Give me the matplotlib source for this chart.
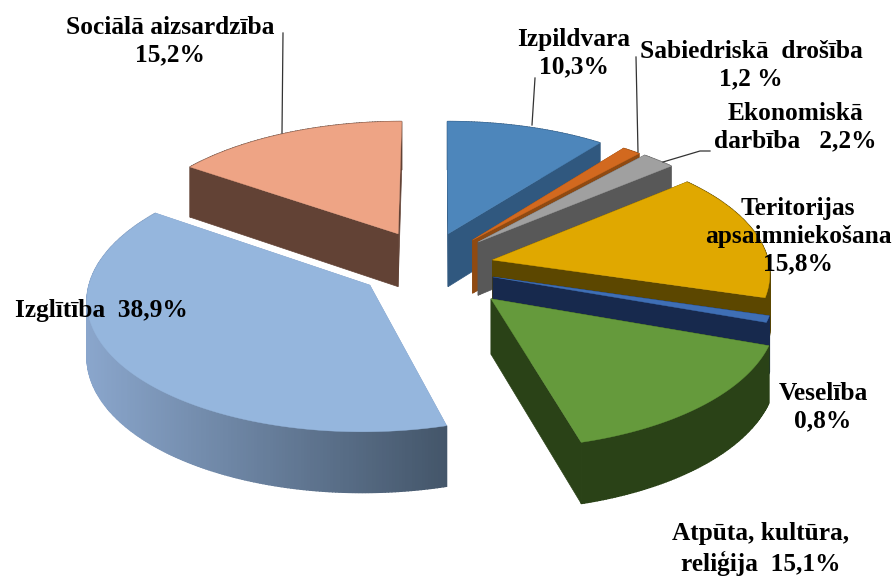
import numpy as np
import matplotlib.pyplot as plt
from matplotlib.colors import LinearSegmentedColormap

# budget shares, clockwise from 12 o'clock
names = ['Izpildvara', 'Sabiedriskā drošība', 'Ekonomiskā darbība', 'Teritorijas apsaimniekošana',
         'Veselība', 'Atpūta, kultūra, reliģija', 'Izglītība', 'Sociālā aizsardzība']
shares = [10.3, 1.2, 2.2, 15.8, 0.8, 15.1, 38.9, 15.2]

# how far each slice is pulled away from the pie centre (pie radius = 1)
shift_x = [0.03, 0.12, 0.14, 0.19, 0.19, 0.18, -0.25, -0.155]
shift_y = [0.225, 0.174, 0.158, 0.016, -0.116, -0.28, -0.178, 0.225]
top_colors = ['#4d86bb', '#d2691f', '#a0a0a0', '#e0a800', '#3f6fb5', '#659a3c', '#95b6dd', '#eea485']
wall_left = ['#30587f', '#8f4a12', '#585858', '#5c4700', '#17294d', '#2a4217', '#8aa6cc', '#624235']
wall_right = ['#30587f', '#8f4a12', '#585858', '#5c4700', '#17294d', '#2a4217', '#44566a', '#624235']
# back to front
draw_order = [7, 0, 1, 2, 3, 4, 5, 6]

CX, CY = 440, 262
RX = 276
RY = 128
PERSP = 0.095
DEPTH = 54


def project(x, y, z=0.0):
    s = 1 / (1 + PERSP * y)
    return CX + x * RX * s, CY - y * RY * s + z * DEPTH * s


fig = plt.figure(figsize=(8.94, 5.77), dpi=100)
ax = fig.add_axes([0, 0, 1, 1])
ax.set_xlim(0, 894)
ax.set_ylim(577, 0)
ax.axis('off')

total = sum(shares)
edges = np.concatenate([[0], np.cumsum(shares)]) / total * 2 * np.pi

for i in draw_order:
    a = np.linspace(edges[i], edges[i + 1], max(6, int(shares[i] * 6)))
    px = shift_x[i] + np.sin(a)
    py = shift_y[i] + np.cos(a)

    top_x, top_y = project(px, py)
    low_x, low_y = project(px, py, 1)
    ax0, ay0 = project(shift_x[i], shift_y[i])
    ax1, ay1 = project(shift_x[i], shift_y[i], 1)

    # the two cut faces
    for k in [0, -1]:
        ax.fill([ax0, top_x[k], low_x[k], ax1], [ay0, top_y[k], low_y[k], ay1],
                color=wall_left[i], lw=0.5)

    # outer rim, split up so it can carry a gradient
    cmap = LinearSegmentedColormap.from_list('rim', [wall_left[i], wall_right[i]])
    for k in range(len(a) - 1):
        t = (top_x[k] - top_x.min()) / (top_x.max() - top_x.min())
        ax.fill([top_x[k], top_x[k + 1], low_x[k + 1], low_x[k]],
                [top_y[k], top_y[k + 1], low_y[k + 1], low_y[k]], color=cmap(t), lw=1)

    ax.fill(np.r_[ax0, top_x], np.r_[ay0, top_y], color=top_colors[i], lw=0.3)

# leader lines
leaders = [([282, 283], [133, 33]), ([532, 535], [125, 78]), ([638, 636], [152, 57]),
           ([663, 700, 710], [162, 151, 151])]
for lx, ly in leaders:
    ax.plot(lx, ly, color='#333333', lw=0.9)

font = dict(family='Liberation Serif', fontweight='bold', fontsize=18.3, color='black',
            ha='center', va='center', linespacing=1.27)
ax.text(170, 41, 'Sociālā aizsardzība\n15,2%', **font)
ax.text(574, 53, 'Izpildvara\n10,3%', **font)
ax.text(751, 65, 'Sabiedriskā  drošība\n1,2 %', **font)
ax.text(795, 127, 'Ekonomiskā\ndarbība   2,2%', **font)
ax.text(798, 236, 'Teritorijas\napsaimniekošana\n15,8%', **font)
ax.text(823, 407, 'Veselība\n0,8%', **font)
ax.text(761, 549, 'Atpūta, kultūra,\nreliģija  15,1%', **font)
ax.text(101, 310, 'Izglītība  38,9%', **font)

plt.savefig('out.png', dpi=100)
